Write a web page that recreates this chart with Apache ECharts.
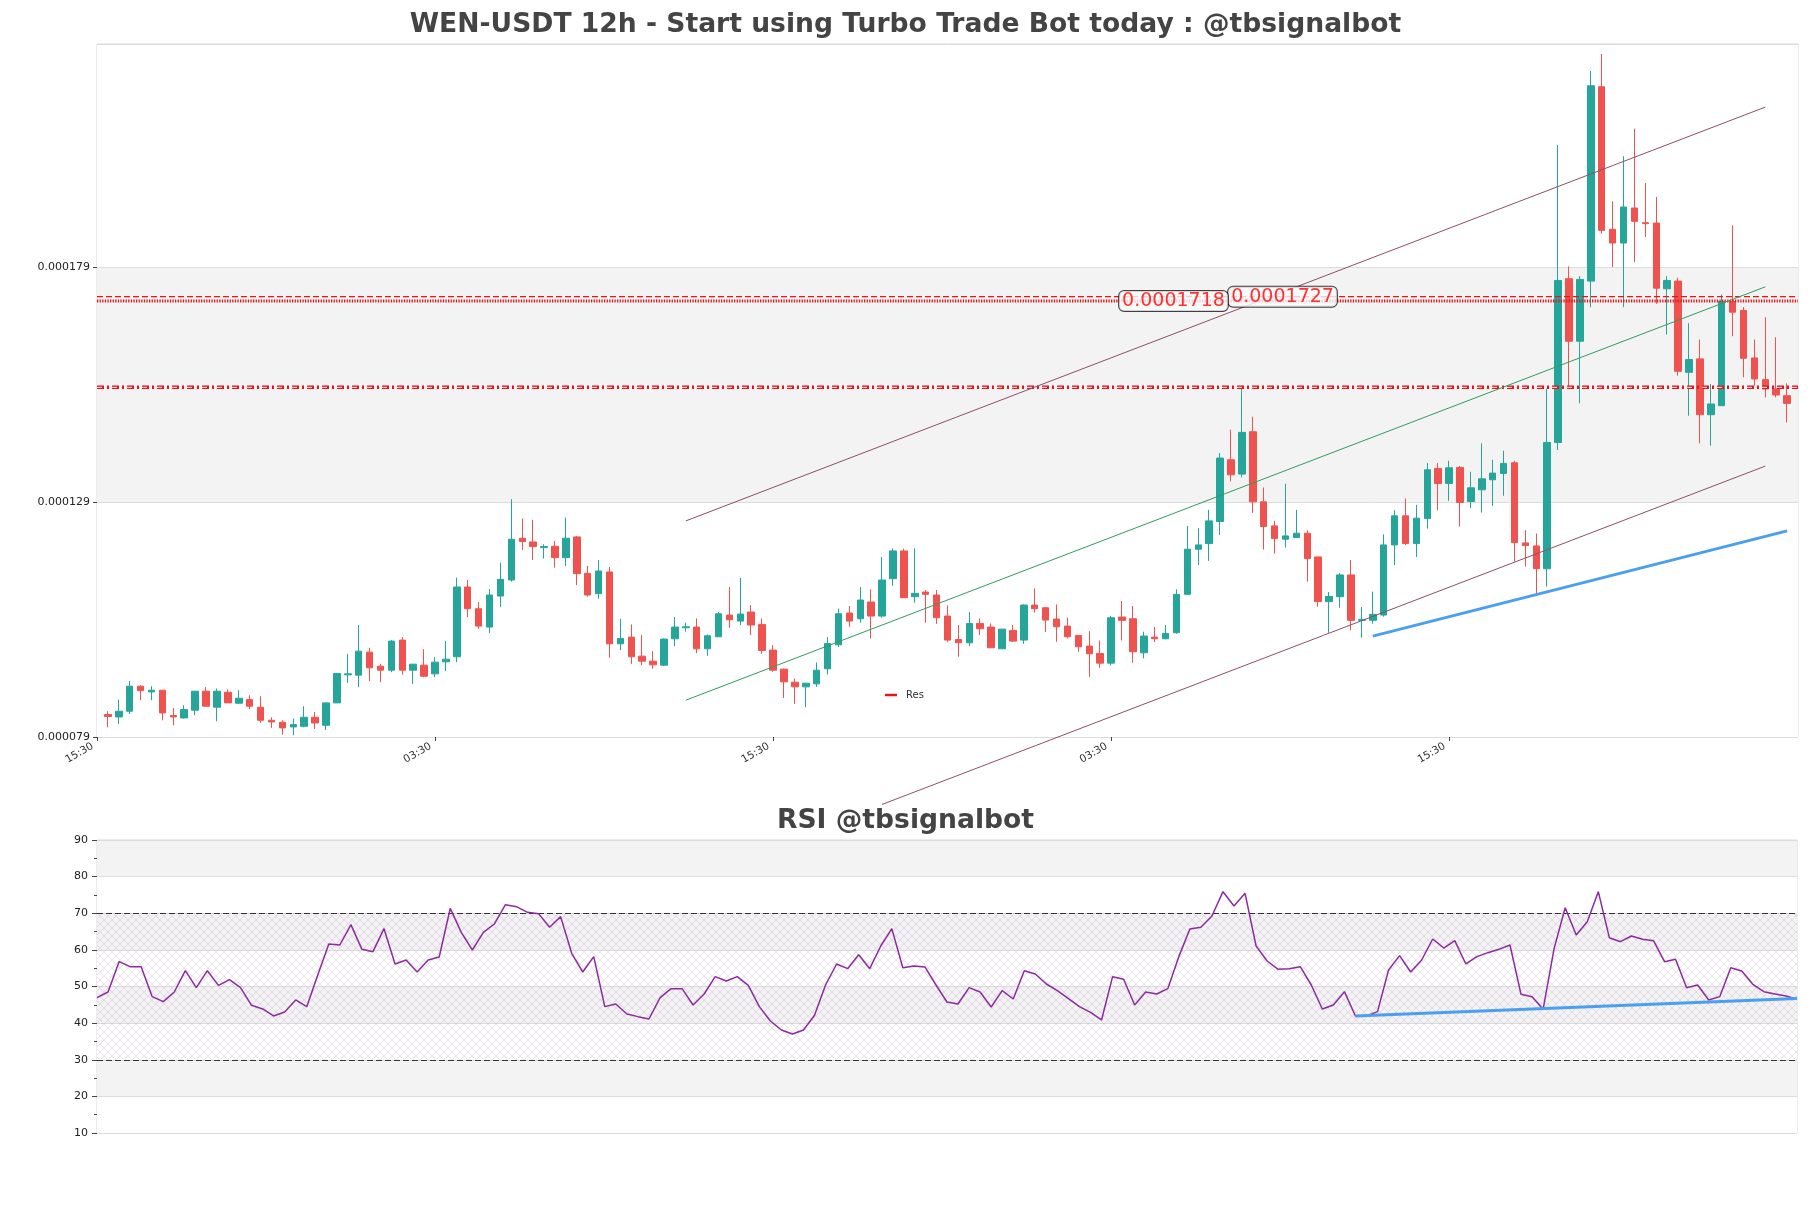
<!DOCTYPE html>
<html><head><meta charset="utf-8">
<script src="https://cdn.jsdelivr.net/npm/echarts@6/dist/echarts.min.js"></script>
<style>html,body{margin:0;padding:0;background:#fff}#c{width:1811px;height:1208px}</style>
</head><body><div id="c"></div><script>
// ---- DATA (prices in units of 1e-6 USDT) ----
const openP = [83.77,83.27,84.48,89.81,88.60,88.96,83.56,83.06,84.70,88.75,
85.34,88.53,86.19,86.97,85.34,82.56,82.14,81.14,81.28,83.20,
81.50,86.26,92.23,92.16,97.06,94.08,93.22,99.62,93.22,94.29,
92.44,95.00,96.07,110.92,106.30,102.39,109.00,112.41,121.30,120.51,
119.31,119.59,117.17,121.58,113.83,109.50,114.12,98.84,100.26,96.21,
95.14,94.29,99.90,102.25,102.39,97.77,100.33,104.95,103.67,105.59,
102.96,97.49,93.44,90.66,89.67,90.31,93.51,98.62,105.38,104.17,
107.72,104.74,112.70,118.60,108.86,109.85,109.21,104.74,99.76,99.05,
103.17,102.39,97.77,101.68,99.62,107.08,106.51,104.10,102.60,100.61,
98.34,96.78,94.72,104.53,104.17,96.92,100.26,99.91,101.19,109.36,
118.96,120.16,124.85,138.00,134.95,143.97,129.05,123.93,121.09,121.44,
122.37,117.32,107.80,108.86,113.49,103.82,103.82,104.95,119.88,126.06,
120.16,125.49,136.15,132.96,136.37,129.12,131.61,133.74,135.09,137.36,
120.31,119.67,114.80,141.69,176.53,163.22,176.02,217.38,187.04,184.12,
191.58,188.46,188.38,174.39,176.02,156.61,159.47,147.59,149.51,171.69,
169.77,159.68,155.06,153.07,151.64];
const closeP = [83.35,84.48,89.81,88.89,88.96,84.13,83.27,84.84,88.75,85.55,
88.75,86.26,87.25,85.55,82.56,82.21,80.93,81.64,83.20,81.99,
86.26,92.51,92.44,97.27,93.72,93.22,99.41,93.22,94.50,91.94,
94.93,95.57,110.92,106.30,102.60,109.21,112.55,121.08,120.59,119.52,
119.52,117.17,121.30,113.76,109.21,114.33,98.84,99.98,96.07,95.14,
94.36,99.83,102.39,102.46,97.77,100.54,105.23,103.96,105.16,102.82,
97.42,93.22,90.74,89.67,90.45,93.22,98.91,105.23,103.67,108.15,
104.74,112.41,118.60,108.65,109.57,109.36,104.38,99.62,99.05,103.17,
102.04,97.99,101.96,99.41,107.08,106.30,103.88,102.46,100.33,98.20,
96.71,94.72,104.38,103.82,97.14,100.48,99.91,101.05,109.36,118.96,
119.88,124.99,138.36,134.80,143.83,129.05,123.79,121.23,121.80,122.37,
116.97,107.80,108.93,113.49,103.82,104.03,105.10,119.88,126.06,120.16,
125.57,135.87,132.96,136.30,128.91,132.03,133.95,135.16,137.22,120.38,
119.74,114.83,141.69,176.16,163.22,176.38,217.59,186.83,184.12,191.79,
188.74,188.25,174.52,176.16,156.83,159.32,147.59,149.87,171.69,169.41,
159.60,155.20,153.07,151.79,150.00];
const highP = [84.48,86.97,90.88,90.03,89.81,88.96,85.19,85.76,88.75,89.60,
89.31,89.10,88.96,87.89,87.68,83.20,82.56,82.92,85.55,84.34,
86.26,92.51,96.70,102.82,97.99,94.57,99.62,100.26,94.50,97.70,
96.00,99.41,112.91,112.41,107.72,110.49,116.11,129.61,125.49,125.21,
120.02,120.73,125.70,121.79,115.40,116.68,115.18,104.17,102.96,100.69,
97.27,99.98,104.52,103.32,104.24,100.83,105.59,110.92,112.84,107.08,
104.24,98.55,93.58,91.45,90.45,94.86,100.26,106.30,106.87,110.92,
110.42,117.32,119.16,119.09,119.16,110.28,110.28,107.01,102.82,105.59,
104.24,103.17,101.96,102.82,107.22,110.63,106.66,107.22,104.38,100.61,
101.54,99.55,104.74,107.94,106.87,101.40,102.40,102.82,110.43,123.93,
123.43,127.34,139.42,144.40,153.78,147.17,132.10,125.00,132.89,127.34,
123.01,117.32,109.86,113.91,116.68,106.66,109.93,122.15,127.27,129.76,
128.41,137.29,137.29,137.79,136.65,135.44,141.49,138.00,139.92,137.79,
123.01,122.30,153.14,204.95,179.15,177.08,220.73,224.35,193.00,202.60,
208.47,196.91,193.93,177.08,176.74,167.06,163.58,154.14,173.18,187.89,
170.47,163.58,168.34,164.07,154.27];
const lowP = [81.07,81.78,83.91,86.83,86.83,82.56,81.50,82.92,83.63,85.55,
82.35,86.26,86.05,84.91,81.99,80.93,79.51,79.36,81.07,80.71,
80.50,86.26,90.52,89.60,90.88,90.66,92.80,92.30,90.31,91.73,
91.73,93.01,94.93,104.52,102.04,101.11,106.66,112.06,118.81,116.68,
116.96,115.04,115.40,111.35,108.86,108.43,95.85,97.49,94.57,94.29,
93.51,94.08,98.34,101.40,96.85,96.28,100.33,102.25,102.82,100.69,
96.70,92.87,87.32,86.05,85.34,89.67,92.30,98.13,102.46,103.32,
99.98,104.38,111.20,108.65,107.58,103.32,103.10,99.26,96.07,98.34,
100.69,97.99,97.77,99.26,98.84,105.45,101.33,99.26,99.98,97.13,
91.80,93.72,94.22,99.55,94.79,95.72,99.20,99.77,100.98,109.22,
115.61,116.47,122.01,133.38,134.24,126.70,118.88,118.03,119.31,121.44,
112.06,106.73,101.19,106.52,101.69,100.12,103.11,104.60,115.61,119.88,
117.32,123.36,127.27,129.26,123.79,127.70,126.77,128.19,130.33,116.33,
115.26,109.36,111.00,140.07,153.41,150.00,170.47,186.12,179.00,170.47,
180.07,185.40,171.19,164.65,155.91,147.38,141.47,140.98,149.51,164.29,
155.55,153.78,151.28,151.28,145.95];
const rsi = [46.95,48.50,56.78,55.42,55.42,47.23,45.86,48.50,54.32,49.68,
54.32,50.32,51.87,49.68,44.86,43.86,41.95,43.04,46.32,44.50,
53.14,61.61,61.33,66.88,60.15,59.51,65.79,56.15,57.24,53.96,
57.24,58.06,71.34,64.79,59.97,64.79,67.07,72.34,71.80,70.25,
69.89,66.16,69.07,59.06,53.96,58.15,44.50,45.22,42.49,41.77,
41.13,46.90,49.41,49.41,44.95,47.95,52.69,51.50,52.69,50.32,
44.50,40.58,38.12,37.03,38.12,42.13,50.41,56.15,54.87,58.69,
54.87,61.06,65.79,55.14,55.60,55.33,50.41,45.77,45.22,49.68,
48.50,44.40,48.86,46.59,54.32,53.41,50.68,48.86,46.68,44.50,
42.95,40.86,52.69,51.96,44.95,48.50,47.95,49.41,58.15,65.70,
66.16,69.25,75.89,71.98,75.44,61.06,56.96,54.69,54.87,55.42,
50.41,43.86,44.95,48.59,41.95,41.95,43.13,54.50,58.42,53.96,
57.24,62.97,60.51,62.52,56.15,58.15,59.24,60.15,61.33,47.86,
47.23,43.77,60.42,71.52,64.06,67.70,75.89,63.33,62.24,63.79,
62.88,62.52,56.78,57.42,49.68,50.41,46.32,47.23,55.14,54.23,
50.59,48.59,47.95,47.41,46.50];
// trend lines: [slot index, price]
const upperChannel = [[54, 124.99], [153, 213.05]];
const midChannel   = [[54, 86.83],  [153, 174.80]];
const lowerChannel = [[72, 64.65],  [153, 136.65]];
const priceSupport = [[117, 100.47],[155, 122.86]];
const rsiSupport   = [[114, 41.95], [154, 46.70]];
const resDashed = 172.7, resDotted = 171.8, resLow = 153.41;
const priceTags = [[109, 172.7], [99, 171.8]];
// x ticks
const tickIdx = [0, 31, 62, 93, 124];
const tickLabels = ['15:30', '03:30', '15:30', '03:30', '15:30'];
const slotCount = openP.length + 2;

// ---- build ----
const slots = Array.from({length: slotCount}, (_, i) => String(i));
const candleData = slots.map((_, i) => (i === 0 || i === slotCount - 1) ? '-' :
  [openP[i-1], closeP[i-1], lowP[i-1], highP[i-1]]);
const rsiCats = rsi.map((_, i) => String(i));

const hatch = document.createElement('canvas');
hatch.width = 8; hatch.height = 8;
(function(){const g = hatch.getContext('2d');
 g.strokeStyle = 'rgba(175,150,190,0.38)'; g.lineWidth = 0.7;
 g.beginPath(); g.moveTo(0,0); g.lineTo(8,8); g.moveTo(8,0); g.lineTo(0,8); g.stroke();})();

const FONT = 'DejaVu Sans';
const chart = echarts.init(document.getElementById('c'), null, {renderer: 'canvas'});
const tickShow = (idx) => tickIdx.indexOf(idx) >= 0;

chart.setOption({
  animation: false,
  textStyle: {fontFamily: FONT},
  title: [
    {text: 'WEN-USDT 12h - Start using Turbo Trade Bot today : @tbsignalbot', left: 'center', top: 7,
     textStyle: {fontSize: 26.6, fontWeight: 'bold', color: '#444', fontFamily: FONT}},
    {text: 'RSI @tbsignalbot', left: 'center', top: 803,
     textStyle: {fontSize: 26.6, fontWeight: 'bold', color: '#444', fontFamily: FONT}}
  ],
  legend: {data: ['Res'], left: 880, top: 685, icon: 'rect', itemWidth: 12, itemHeight: 2.5,
    itemGap: 5, selectedMode: false,
    textStyle: {fontSize: 10, color: '#333', fontFamily: FONT, padding: [0, 0, 0, 4]}},
  grid: [
    {left: 97, right: 13, top: 44, bottom: 471, show: true, borderColor: '#d9d9d9', borderWidth: 1},
    {left: 97, right: 14, top: 840, bottom: 75, show: true, borderColor: '#d9d9d9', borderWidth: 1}
  ],
  xAxis: [
    {type: 'category', gridIndex: 0, data: slots, boundaryGap: false,
     axisLine: {show: false},
     axisTick: {show: true, interval: tickShow, length: 4, lineStyle: {color: '#444'}},
     axisLabel: {interval: tickShow, rotate: 30, fontSize: 10.5, color: '#333', margin: 6,
       width: 80, overflow: 'none', hideOverlap: false, padding: [0, 5, 0, 0],
       formatter: (v, idx) => tickLabels[tickIdx.indexOf(idx)] || ''},
     splitLine: {show: false}},
    {type: 'category', gridIndex: 1, data: rsiCats, boundaryGap: false,
     axisLine: {show: false}, axisTick: {show: false}, axisLabel: {show: false}, splitLine: {show: false}}
  ],
  yAxis: [
    {type: 'value', gridIndex: 0, min: 79, max: 226.48, interval: 50,
     axisLine: {show: false},
     axisTick: {show: true, length: 4, lineStyle: {color: '#444'}},
     axisLabel: {fontSize: 11, color: '#222', margin: 7, showMaxLabel: false,
       formatter: v => (v / 1e6).toFixed(6)},
     splitLine: {show: true, lineStyle: {color: '#dcdcdc', width: 1}},
     splitArea: {show: true, areaStyle: {color: ['#ffffff', '#f3f3f3']}}},
    {type: 'value', gridIndex: 1, min: 10, max: 90, interval: 10,
     axisLine: {show: false},
     axisTick: {show: true, length: 5, lineStyle: {color: '#444'}},
     minorTick: {show: true, splitNumber: 2, length: 3, lineStyle: {color: '#444'}},
     axisLabel: {fontSize: 11, color: '#222', margin: 9},
     splitLine: {show: true, lineStyle: {color: '#dcdcdc', width: 1}},
     splitArea: {show: true, areaStyle: {color: ['#ffffff', '#f3f3f3']}}}
  ],
  series: [
    {type: 'candlestick', xAxisIndex: 0, yAxisIndex: 0, data: candleData, barWidth: 7,
     itemStyle: {color: '#26a69a', color0: '#ef5350', borderColor: '#26a69a', borderColor0: '#ef5350', borderWidth: 1}, z: 3},
    {name: 'Res', type: 'line', xAxisIndex: 0, yAxisIndex: 0, color: '#e8141c',
     data: [[0, resDashed], [slotCount - 1, resDashed]], symbol: 'none', silent: true,
     lineStyle: {color: '#e8141c', width: 1.2, type: [6, 3]}, z: 4},
    {name: 'Res', type: 'line', xAxisIndex: 0, yAxisIndex: 0, color: '#e8141c',
     data: [[0, resDotted], [slotCount - 1, resDotted]], symbol: 'none', silent: true,
     lineStyle: {color: '#e8141c', width: 3, type: [1.3, 1.3]}, z: 4},
    {name: 'Res', type: 'line', xAxisIndex: 0, yAxisIndex: 0, color: '#e8141c',
     data: [[0, resLow], [slotCount - 1, resLow]], symbol: 'none', silent: true,
     lineStyle: {color: '#e8141c', width: 3.5, type: [7, 3, 2, 3]}, z: 4},
    {name: 'Res', type: 'line', xAxisIndex: 0, yAxisIndex: 0, color: '#e8141c',
     data: [[0, resLow], [slotCount - 1, resLow]], symbol: 'none', silent: true,
     lineStyle: {color: '#f6f6f6', width: 1, type: [5, 10]}, z: 4},
    {type: 'line', xAxisIndex: 0, yAxisIndex: 0, data: upperChannel, symbol: 'none', clip: false, silent: true,
     lineStyle: {color: '#8e4f66', width: 1}, z: 5},
    {type: 'line', xAxisIndex: 0, yAxisIndex: 0, data: midChannel, symbol: 'none', clip: false, silent: true,
     lineStyle: {color: '#2e9e5e', width: 1}, z: 5},
    {type: 'line', xAxisIndex: 0, yAxisIndex: 0, data: lowerChannel, symbol: 'none', clip: false, silent: true,
     lineStyle: {color: '#8e4f66', width: 1}, z: 5},
    {type: 'line', xAxisIndex: 0, yAxisIndex: 0, data: priceSupport, symbol: 'none', clip: false, silent: true,
     lineStyle: {color: '#4a9ff0', width: 3}, z: 5},
    {type: 'scatter', xAxisIndex: 0, yAxisIndex: 0, data: priceTags, symbolSize: 0.1, silent: true,
     itemStyle: {color: 'rgba(0,0,0,0)'}, z: 8,
     label: {show: true, position: 'inside', offset: [-3, 0], color: '#ff0000', fontSize: 19, fontFamily: FONT,
       backgroundColor: '#fafafa', borderColor: '#111', borderWidth: 1, borderRadius: 5, padding: [1, 3, 0, 3],
       formatter: p => (p.value[1] / 1e6).toFixed(7)}},
    {type: 'line', xAxisIndex: 1, yAxisIndex: 1, data: rsi, symbol: 'none', silent: true,
     lineStyle: {color: '#8e2aa0', width: 1.5}, z: 5,
     markLine: {symbol: ['none', 'none'], silent: true, label: {show: false},
       lineStyle: {color: '#333', width: 1.2, type: [6, 3]}, data: [{yAxis: 30}, {yAxis: 70}]},
     markArea: {silent: true, itemStyle: {color: {image: hatch, repeat: 'repeat'}},
       data: [[{yAxis: 30}, {yAxis: 70}]]}},
    {type: 'line', xAxisIndex: 1, yAxisIndex: 1, data: rsiSupport, symbol: 'none', silent: true,
     lineStyle: {color: '#4a9ff0', width: 3}, z: 6}
  ]
});
</script></body></html>
